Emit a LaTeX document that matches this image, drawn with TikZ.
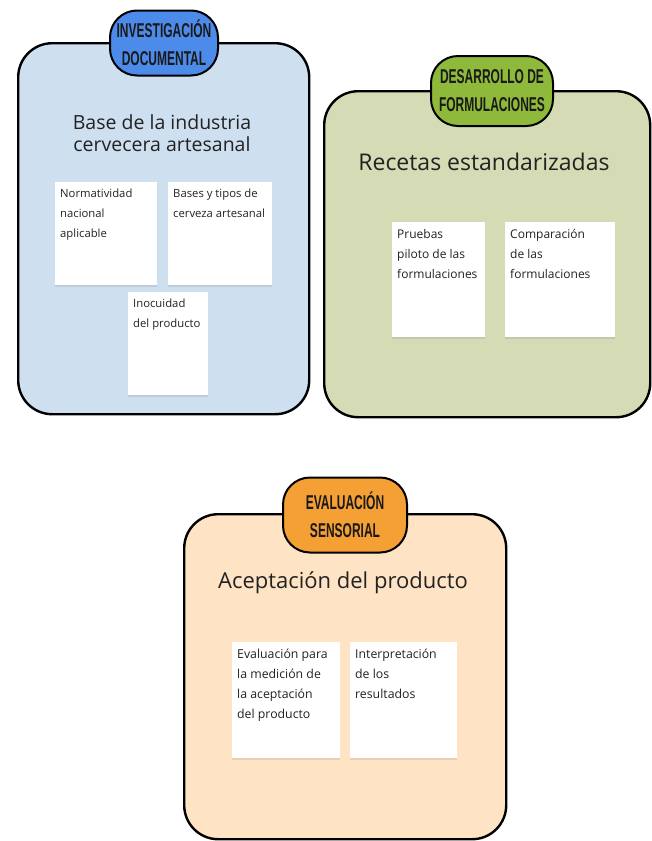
\documentclass[tikz,border=0pt]{standalone}
\usepackage{fontspec}
\setmainfont{Open Sans}
\newfontfamily\tagfont[FakeStretch=0.6]{Liberation Sans}
\usetikzlibrary{shadows}

\definecolor{bluebg}{RGB}{206,223,240}
\definecolor{bluetag}{RGB}{77,139,235}
\definecolor{greenbg}{RGB}{213,220,181}
\definecolor{greentag}{RGB}{143,185,58}
\definecolor{orangebg}{RGB}{254,228,196}
\definecolor{orangetag}{RGB}{245,160,52}
\definecolor{inkgray}{RGB}{34,34,34}

\newcommand{\cardtext}[3]{\parbox[t][#2][t]{#1}{\raggedright #3}}

\begin{document}
\begin{tikzpicture}[x=1pt, y=-1pt,
    panel/.style={rectangle, draw, line width=2.4pt, rounded corners=34pt, anchor=north west, inner sep=0pt},
    tag/.style={rectangle, draw, line width=2pt, rounded corners=27pt, inner sep=0pt, align=center,
        font=\tagfont\bfseries\fontsize{20}{28}\selectfont, text=black!90},
    heading/.style={align=center, text=inkgray, font=\fontsize{#1}{22}\selectfont},
    card/.style={rectangle, fill=white, anchor=north west, inner xsep=5pt, inner ysep=7pt,
        text=inkgray, font=\fontsize{#1}{20}\selectfont,
        drop shadow={shadow xshift=0pt, shadow yshift=-1.5pt, opacity=0.2}}]
        \useasboundingbox (0,0) rectangle (652,841);

        \node[panel, fill=bluebg, minimum width=291pt, minimum height=371pt] (inv) at (17,42) {};
        \node[panel, fill=greenbg, minimum width=326pt, minimum height=326pt] (des) at (323,90) {};
        \node[panel, fill=orangebg, minimum width=322pt, minimum height=325pt] (eva) at (183,513) {};

        \node[tag, fill=bluetag, minimum width=108pt, minimum height=65pt] (invtag) at (164,43) {INVESTIGACIÓN\\DOCUMENTAL};
        \node[tag, fill=greentag, minimum width=122pt, minimum height=70pt] (destag) at (492,91) {DESARROLLO DE\\FORMULACIONES};
        \node[tag, fill=orangetag, minimum width=124pt, minimum height=75pt] (evatag) at (345,515) {EVALUACIÓN\\SENSORIAL};

        \node[heading=19.5] (invtitle) at (162,133) {Base de la industria\\cervecera artesanal};
        \node[heading=23] (destitle) at (484,162) {Recetas estandarizadas};
        \node[heading=22] (evatitle) at (343,583) {Aceptación del producto};

        \node[card=11.3] (norm) at (55,182) {\cardtext{92pt}{89pt}{Normatividad\\nacional\\aplicable}};
        \node[card=11.3] (bases) at (168,182) {\cardtext{94pt}{89pt}{Bases y tipos de\\cerveza artesanal}};
        \node[card=11.3] (inoc) at (128,292) {\cardtext{70pt}{89pt}{Inocuidad\\del producto}};

        \node[card=12] (piloto) at (392,222) {\cardtext{83pt}{101pt}{Pruebas\\piloto de las\\formulaciones}};
        \node[card=12] (comp) at (505,222) {\cardtext{100pt}{101pt}{Comparación\\de las\\formulaciones}};

        \node[card=12.3] (medic) at (232,642) {\cardtext{98pt}{102pt}{Evaluación para\\la medición de\\la aceptación\\del producto}};
        \node[card=12.3] (interp) at (350,642) {\cardtext{97pt}{102pt}{Interpretación\\de los\\resultados}};
    \end{tikzpicture}
\end{document}
